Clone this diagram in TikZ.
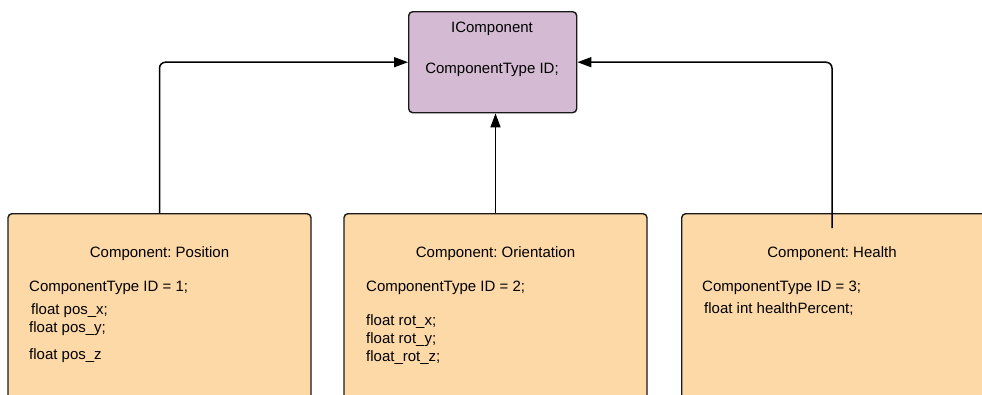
\documentclass[tikz,border=0pt]{standalone}
\usepackage{fontspec}
\setmainfont{Liberation Sans}
\frenchspacing
\usetikzlibrary{arrows.meta, positioning}
\definecolor{ifacefill}{HTML}{D4BBD3}
\definecolor{compfill}{HTML}{FDD9A8}

\begin{document}
\begin{tikzpicture}[x=1pt, y=-1pt, >={Triangle[length=14pt, width=10pt]},
    box/.style={draw=black!90, line width=1.4pt, rounded corners=4pt, inner sep=0pt},
    compbox/.style={box, fill=compfill, minimum width=303pt, minimum height=230pt, anchor=north},
    txt/.style={inner sep=0pt, anchor=base west, font=\fontsize{15}{18}\selectfont},
    title/.style={txt, anchor=base},
    link/.style={->, line width=1.5pt, rounded corners=6pt}]
    % Cadre de la page (les boites du bas sont coupees)
    \useasboundingbox (0,0) rectangle (982,394);
    \clip (0,0) rectangle (982,394);

    % Interface commune
    \node[box, fill=ifacefill, minimum width=168pt, minimum height=101pt, anchor=north west] (icomp) at (408,11) {};
    \node[title] (icompname) at (492,32) {IComponent};
    \node[title] (icompid) at (492,73) {ComponentType ID;};

    % Les trois composants
    \node[compbox] (pos) at (159.5,213) {};
    \node[compbox] (ori) at (495.5,213) {};
    \node[compbox, anchor=north west, minimum width=320pt] (hp) at (681,213) {};

    % Component: Position
    \node[title] (posname) at (159.5,257) {Component: Position};
    \node[txt] (posid) at (29,291) {ComponentType ID = 1;};
    \node[txt] (posx) at (31,314) {float pos\_x;};
    \node[txt] (posy) at (29,332) {float pos\_y;};
    \node[txt] (posz) at (29,359) {float pos\_z};

    % Component: Orientation
    \node[title] (oriname) at (495.5,257) {Component: Orientation};
    \node[txt] (oriid) at (366,291) {ComponentType ID = 2;};
    \node[txt] (rotx) at (366,325) {float rot\_x;};
    \node[txt] (roty) at (366,343) {float rot\_y;};
    \node[txt] (rotz) at (366,361) {float\_rot\_z;};

    % Component: Health
    \node[title] (hpname) at (832,257) {Component: Health};
    \node[txt] (hpid) at (702,291) {ComponentType ID = 3;};
    \node[txt] (hpval) at (704,313) {float int healthPercent;};

    % Liens vers l'interface
    \coordinate (hpstart) at (832,228);
    \draw[link] (pos.north) |- (icomp.west);
    \draw[link] (ori.north) -- (ori.north |- icomp.south);
    \draw[link] (hpstart) |- (icomp.east);

\end{tikzpicture}
\end{document}
